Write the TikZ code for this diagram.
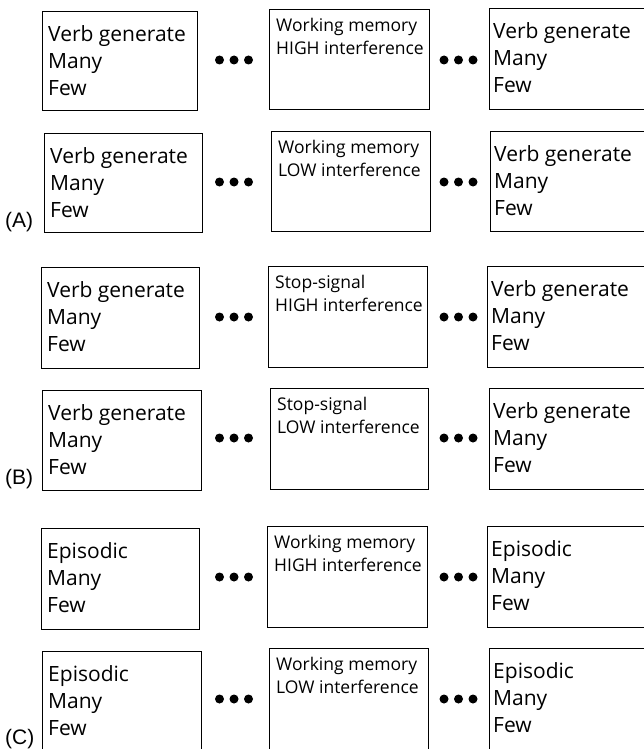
\documentclass[tikz,border=0pt]{standalone}
\usepackage{fontspec}
\setmainfont{Open Sans}
\newfontfamily\labfont{Liberation Sans}
\begin{document}
\begin{tikzpicture}[x=1pt,y=-1pt,
  bx/.style={draw=black,line width=1.3pt,inner sep=0pt,anchor=north west},
  bigtxt/.style={anchor=north west,inner sep=0pt,align=left,font=\fontsize{21}{27}\selectfont},
  midtxt/.style={anchor=north west,inner sep=0pt,align=left,font=\fontsize{17.5}{23}\selectfont},
  lab/.style={anchor=base west,inner sep=0pt,font=\labfont\fontsize{21}{25}\selectfont},
  dotc/.style={circle,fill=black,inner sep=0pt,minimum size=9pt}]
\useasboundingbox (0,0) rectangle (643,749);
% ---------- (A) ----------
\node[bx,minimum width=155,minimum height=99] (a1l) at (42,11) {};
\node[bigtxt] (a1lt) at ([xshift=6,yshift=-14]a1l.north west) {Verb generate\\Many\\Few};
\node[bx,minimum width=160,minimum height=100] (a1m) at (269,9) {};
\node[midtxt] (a1mt) at ([xshift=7,yshift=-9]a1m.north west) {Working memory\\HIGH interference};
\node[bx,minimum width=165,minimum height=101] (a1r) at (489,8) {};
\node[bigtxt] (a1rt) at ([xshift=4,yshift=-14]a1r.north west) {Verb generate\\Many\\Few};

\node[bx,minimum width=158,minimum height=99] (a2l) at (44,133) {};
\node[bigtxt] (a2lt) at ([xshift=6,yshift=-14]a2l.north west) {Verb generate\\Many\\Few};
\node[bx,minimum width=159,minimum height=100] (a2m) at (271,131) {};
\node[midtxt] (a2mt) at ([xshift=7,yshift=-9]a2m.north west) {Working memory\\LOW interference};
\node[bx,minimum width=165,minimum height=100] (a2r) at (490,131) {};
\node[bigtxt] (a2rt) at ([xshift=4,yshift=-14]a2r.north west) {Verb generate\\Many\\Few};
\node[lab] (la) at (5,227) {(A)};

% ---------- (B) ----------
\node[bx,minimum width=158,minimum height=101] (b1l) at (41,267) {};
\node[bigtxt] (b1lt) at ([xshift=6,yshift=-14]b1l.north west) {Verb generate\\Many\\Few};
\node[bx,minimum width=159,minimum height=101] (b1m) at (268,266) {};
\node[midtxt] (b1mt) at ([xshift=7,yshift=-9]b1m.north west) {Stop-signal\\HIGH interference};
\node[bx,minimum width=165,minimum height=101] (b1r) at (487,266) {};
\node[bigtxt] (b1rt) at ([xshift=4,yshift=-14]b1r.north west) {Verb generate\\Many\\Few};

\node[bx,minimum width=159,minimum height=100] (b2l) at (42,390) {};
\node[bigtxt] (b2lt) at ([xshift=6,yshift=-14]b2l.north west) {Verb generate\\Many\\Few};
\node[bx,minimum width=158,minimum height=101] (b2m) at (270,388) {};
\node[midtxt] (b2mt) at ([xshift=7,yshift=-9]b2m.north west) {Stop-signal\\LOW interference};
\node[bx,minimum width=165,minimum height=101] (b2r) at (489,388) {};
\node[bigtxt] (b2rt) at ([xshift=4,yshift=-14]b2r.north west) {Verb generate\\Many\\Few};
\node[lab] (lb) at (5,484) {(B)};

% ---------- (C) ----------
\node[bx,minimum width=158,minimum height=101] (c1l) at (41,528) {};
\node[bigtxt] (c1lt) at ([xshift=6,yshift=-14]c1l.north west) {Episodic\\Many\\Few};
\node[bx,minimum width=160,minimum height=101] (c1m) at (267,526) {};
\node[midtxt] (c1mt) at ([xshift=7,yshift=-9]c1m.north west) {Working memory\\HIGH interference};
\node[bx,minimum width=165,minimum height=101] (c1r) at (487,526) {};
\node[bigtxt] (c1rt) at ([xshift=4,yshift=-14]c1r.north west) {Episodic\\Many\\Few};

\node[bx,minimum width=159,minimum height=110] (c2l) at (42,651) {};
\node[bigtxt] (c2lt) at ([xshift=6,yshift=-14]c2l.north west) {Episodic\\Many\\Few};
\node[bx,minimum width=159,minimum height=112] (c2m) at (269,648) {};
\node[midtxt] (c2mt) at ([xshift=7,yshift=-9]c2m.north west) {Working memory\\LOW interference};
\node[bx,minimum width=165,minimum height=112] (c2r) at (489,648) {};
\node[bigtxt] (c2rt) at ([xshift=4,yshift=-14]c2r.north west) {Episodic\\Many\\Few};
\node[lab] (lc) at (5,744) {(C)};

% ---------- dots ----------
\foreach \r/\y in {a1/60,a2/182,b1/317,b2/438,c1/577,c2/699}{
  \foreach \i/\x in {1/219.5,2/234,3/248.5}{
    \node[dotc] (\r p\i) at (\x,\y) {};
  }
  \foreach \i/\x in {1/444,2/458.5,3/473}{
    \node[dotc] (\r q\i) at (\x,\y) {};
  }
}
\end{tikzpicture}
\end{document}
